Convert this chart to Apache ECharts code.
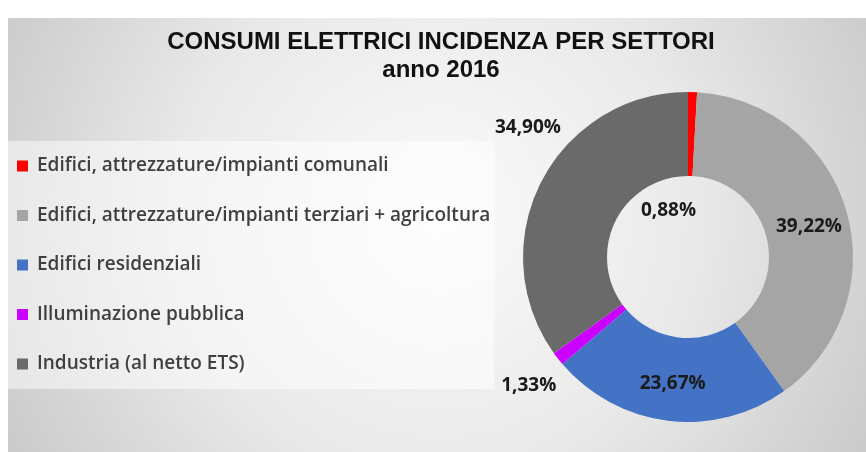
<!DOCTYPE html>
<html>
<head>
<meta charset="utf-8">
<script src="https://cdn.jsdelivr.net/npm/echarts@6/dist/echarts.min.js"></script>
<style>
  html, body { margin: 0; padding: 0; background: #fff; }
  #chart { position: absolute; left: 8px; top: 18px; width: 858px; height: 434px; }
</style>
</head>
<body>
<div id="chart"></div>
<script>
// dati
const settori = [
  "Edifici, attrezzature/impianti comunali",
  "Edifici, attrezzature/impianti terziari + agricoltura",
  "Edifici residenziali",
  "Illuminazione pubblica",
  "Industria (al netto ETS)"
]
const percentuali = [0.88, 39.22, 23.67, 1.33, 34.90]
const colori = ["#ff0000", "#a5a5a5", "#4472c4", "#cc00ff", "#6a6a6a"]
// spostamento etichette come nel grafico originale
const offsetEtichette = [[-23, 80], [0, 5], [0, 2], [-60, 51], [-48, -72]]

const myChart = echarts.init(document.getElementById("chart"))

const data = settori.map((nome, i) => ({
  name: nome,
  value: percentuali[i],
  itemStyle: { color: colori[i] },
  label: { offset: offsetEtichette[i] }
}))

myChart.setOption({
  backgroundColor: {
    type: "radial", x: 430, y: 200, r: 520, global: true,
    colorStops: [
      { offset: 0, color: "#fbfbfb" },
      { offset: 0.5, color: "#e9e9e9" },
      { offset: 1, color: "#c6c6c6" }
    ]
  },
  title: {
    text: "CONSUMI ELETTRICI INCIDENZA PER SETTORI\nanno 2016",
    left: 428,
    top: 5,
    textAlign: "center",
    textStyle: {
      fontFamily: "Liberation Sans",
      fontWeight: "bold",
      fontSize: 24,
      lineHeight: 28,
      color: "#111"
    }
  },
  legend: {
    orient: "vertical",
    left: 0,
    top: 123,
    padding: [15, 4, 15, 9],
    backgroundColor: "rgba(255,255,255,0.5)",
    icon: "rect",
    itemWidth: 11,
    itemHeight: 11,
    itemGap: 29.5,
    selectedMode: false,
    textStyle: {
      fontFamily: "Open Sans",
      fontWeight: 600,
      fontSize: 19,
      lineHeight: 20,
      color: "#404040",
      padding: [0, 0, 0, 4]
    },
    data: settori
  },
  series: [{
    type: "pie",
    center: [680, 239],
    radius: [81, 165],
    startAngle: 90,
    clockwise: true,
    avoidLabelOverlap: false,
    silent: true,
    label: {
      show: true,
      position: "inside",
      formatter: (p) => p.value.toFixed(2).replace(".", ",") + "%",
      fontFamily: "Open Sans",
      fontWeight: "bold",
      fontSize: 19,
      color: "#1a1a1a"
    },
    labelLine: { show: false },
    data: data
  }]
})
</script>
</body>
</html>
